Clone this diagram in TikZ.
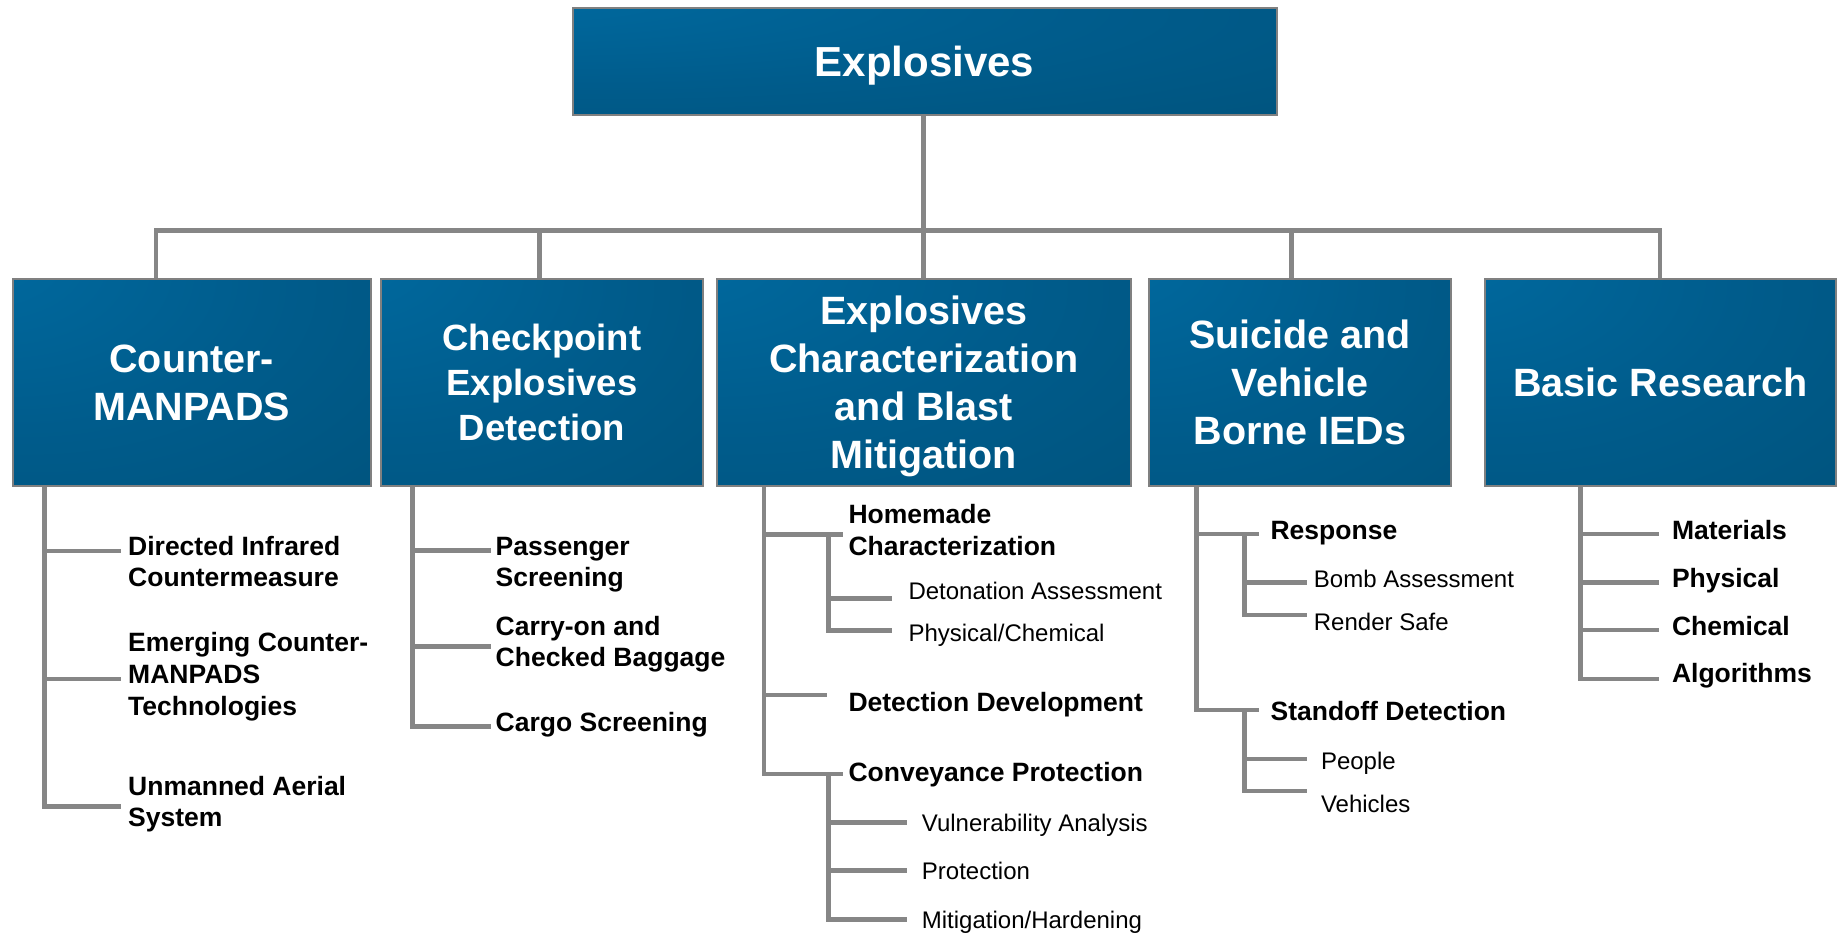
\documentclass[tikz,border=0pt]{standalone}
\usepackage{fontspec}
\setmainfont{Liberation Sans}
\definecolor{boxlight}{RGB}{0,106,160}
\definecolor{boxmid}{RGB}{0,92,140}
\definecolor{boxdark}{RGB}{0,79,118}
\definecolor{linegray}{RGB}{134,134,134}
\definecolor{bordergray}{RGB}{128,128,128}
\pgfdeclareradialshading{boxshade}{\pgfpoint{-32bp}{32bp}}{color(0bp)=(boxlight); color(35bp)=(boxmid); color(80bp)=(boxdark); color(140bp)=(boxdark)}
\newcommand\stk[1]{\begin{tabular}[t]{@{}l@{}}#1\end{tabular}}
\begin{document}
\begin{tikzpicture}[x=1pt,y=-1pt,
  conn/.style={draw=linegray, line width=4.7pt},
  bigbox/.style={draw=bordergray, line width=2pt, shade, shading=boxshade, text=white,
    font=\bfseries\fontsize{39.5}{48}\selectfont, align=center, inner sep=0pt, text depth=0pt},
  item/.style={anchor=base west, inner sep=0pt, font=\bfseries\fontsize{26.5}{31.8}\selectfont},
  subitem/.style={anchor=base west, inner sep=0pt, font=\fontsize{24}{28.8}\selectfont}]
\useasboundingbox (0,0) rectangle (1839,933);

% boxes
\node[bigbox, minimum width=704pt, minimum height=107.3pt, font=\bfseries\fontsize{42}{50}\selectfont] (top) at (924.5,61.4) {Explosives};
\node[bigbox, minimum width=358pt, minimum height=206.4pt] (b1) at (191.7,382.5) {Counter-\\MANPADS};
\node[bigbox, minimum width=322pt, minimum height=206.4pt, font=\bfseries\fontsize{36.5}{45}\selectfont] (b2) at (542,382.5) {Checkpoint\\Explosives\\Detection};
\node[bigbox, minimum width=413.6pt, minimum height=206.4pt] (b3) at (923.8,382.5) {Explosives\\Characterization\\and Blast\\Mitigation};
\node[bigbox, minimum width=302.8pt, minimum height=206.4pt] (b4) at (1300,382.5) {Suicide and\\Vehicle\\Borne IEDs};
\node[bigbox, minimum width=351pt, minimum height=206.4pt] (b5) at (1660.5,382.5) {Basic Research};

% bus
\coordinate (j1) at (156,230.7);
\coordinate (j2) at (539.5,230.7);
\coordinate (j3) at (923.8,230.7);
\coordinate (j4) at (1291.5,230.7);
\coordinate (j5) at (1660,230.7);
\draw[conn] (b1.north -| j1) -- (j1) -- (j5) -- (b5.north -| j5);
\draw[conn] (top.south -| j3) -- (b3.north -| j3);
\draw[conn] (j2) -- (b2.north -| j2);
\draw[conn] (j4) -- (b4.north -| j4);

% column 1
\node[item] (t11) at (128,555) {\stk{Directed Infrared\\Countermeasure}};
\node[item] (t12) at (128,651.7) {\stk{Emerging Counter-\\MANPADS\\Technologies}};
\node[item] (t13) at (128,795) {\stk{Unmanned Aerial\\System}};
\coordinate (s1) at (44.5,551);
\coordinate (e11) at (121,551);
\coordinate (e12) at (121,679);
\coordinate (e13) at (121,806.7);
\draw[conn] (b1.south -| s1) |- (e13);
\draw[conn] (s1) -- (e11);
\draw[conn] (s1 |- e12) -- (e12);

% column 2
\node[item] (t21) at (495.5,555) {\stk{Passenger\\Screening}};
\node[item] (t22) at (495.5,635) {\stk{Carry-on and\\Checked Baggage}};
\node[item] (t23) at (495.5,731) {Cargo Screening};
\coordinate (s2) at (412.5,550.7);
\coordinate (e21) at (490.8,550.7);
\coordinate (e22) at (490.8,646.7);
\coordinate (e23) at (490.8,726.7);
\draw[conn] (b2.south -| s2) |- (e23);
\draw[conn] (s2) -- (e21);
\draw[conn] (s2 |- e22) -- (e22);

% column 3
\node[item] (t31) at (848.3,523.3) {\stk{Homemade\\Characterization}};
\node[subitem] (t311) at (908.3,599) {Detonation Assessment};
\node[subitem] (t312) at (908.3,641.7) {Physical/Chemical};
\node[item] (t32) at (848.3,711.7) {Detection Development};
\node[item] (t33) at (848.3,781.7) {Conveyance Protection};
\node[subitem] (t331) at (921.7,831.7) {Vulnerability Analysis};
\node[subitem] (t332) at (921.7,879.3) {Protection};
\node[subitem] (t333) at (921.7,928.3) {Mitigation/Hardening};
\coordinate (s3) at (764,534.3);
\coordinate (e31) at (843.3,534.3);
\coordinate (e32) at (827.3,695);
\coordinate (e33) at (843.3,774);
\coordinate (s31) at (828.3,534.3);
\coordinate (e311) at (891.7,598.3);
\coordinate (e312) at (891.7,630.7);
\coordinate (s33) at (828.3,774);
\coordinate (e331) at (907.3,822.3);
\coordinate (e332) at (907.3,870.7);
\coordinate (e333) at (907.3,919.3);
\draw[conn] (b3.south -| s3) |- (e33);
\draw[conn] (s3) -- (e31);
\draw[conn] (s3 |- e32) -- (e32);
\draw[conn] (s31) |- (e312);
\draw[conn] (s31 |- e311) -- (e311);
\draw[conn] (s33) |- (e333);
\draw[conn] (s33 |- e331) -- (e331);
\draw[conn] (s33 |- e332) -- (e332);

% column 4
\node[item] (t41) at (1270.4,539.3) {Response};
\node[subitem] (t411) at (1313.7,587.3) {Bomb Assessment};
\node[subitem] (t412) at (1313.7,630.7) {Render Safe};
\node[item] (t42) at (1270.4,720.7) {Standoff Detection};
\node[subitem] (t421) at (1320.8,769.3) {People};
\node[subitem] (t422) at (1320.8,812.3) {Vehicles};
\coordinate (s4) at (1196.8,534);
\coordinate (e41) at (1259,534);
\coordinate (e42) at (1259,710);
\coordinate (s41) at (1244.3,534);
\coordinate (e411) at (1307.4,582.3);
\coordinate (e412) at (1307.4,615);
\coordinate (s42) at (1244.3,710);
\coordinate (e421) at (1307.4,759);
\coordinate (e422) at (1307.4,791);
\draw[conn] (b4.south -| s4) |- (e42);
\draw[conn] (s4) -- (e41);
\draw[conn] (s41) |- (e412);
\draw[conn] (s41 |- e411) -- (e411);
\draw[conn] (s42) |- (e422);
\draw[conn] (s42 |- e421) -- (e421);

% column 5
\node[item] (t51) at (1671.8,539.3) {Materials};
\node[item] (t52) at (1671.8,587.3) {Physical};
\node[item] (t53) at (1671.8,635) {Chemical};
\node[item] (t54) at (1671.8,682.3) {Algorithms};
\coordinate (s5) at (1580.6,534);
\coordinate (e51) at (1659,534);
\coordinate (e52) at (1659,582.3);
\coordinate (e53) at (1659,630);
\coordinate (e54) at (1659,679);
\draw[conn] (b5.south -| s5) |- (e54);
\draw[conn] (s5) -- (e51);
\draw[conn] (s5 |- e52) -- (e52);
\draw[conn] (s5 |- e53) -- (e53);
\end{tikzpicture}
\end{document}
